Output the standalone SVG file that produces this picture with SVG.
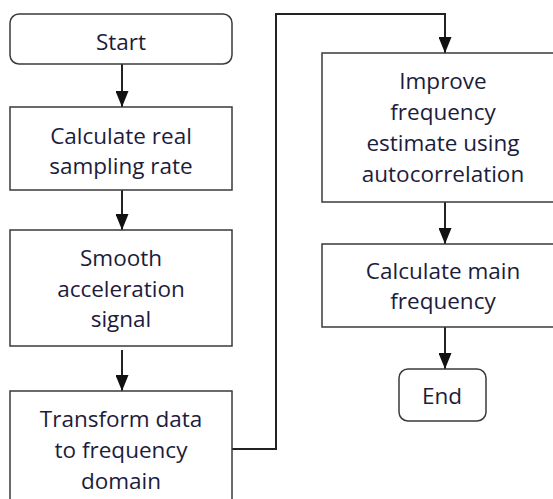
<svg xmlns="http://www.w3.org/2000/svg" width="553" height="499" viewBox="0 0 553 499">
  <style>
    .box { fill: #ffffff; stroke: #3a3a3a; stroke-width: 1.5; }
    .lbl { font-family: "Open Sans", "Noto Sans", sans-serif; font-size: 22.5px; fill: #1c1c3c; text-anchor: middle; }
    .wire { fill: none; stroke: #222222; stroke-width: 2; marker-end: url(#arrow); }
  </style>
  <defs>
    <!-- filled triangular arrowhead, tip at the end of the path -->
    <marker id="arrow" viewBox="0 0 16 13" refX="16" refY="6.5" markerWidth="16" markerHeight="13" markerUnits="userSpaceOnUse" orient="auto">
      <path d="M0,0 L16,6.5 L0,13 Z" fill="#111111"/>
    </marker>
  </defs>
  <rect width="553" height="499" fill="#ffffff"/>

  <g id="connectors">
    <path class="wire" d="M122,64 V107"/>
    <path class="wire" d="M122,190 V230"/>
    <path class="wire" d="M122,350 V391"/>
    <path class="wire" d="M232,449 H276 V14 H445 V53"/>
    <path class="wire" d="M445,202 V244"/>
    <path class="wire" d="M445,327 V369"/>
  </g>

  <g id="start">
    <rect class="box" x="10" y="14" width="222" height="50" rx="9"/>
    <text class="lbl" x="121" y="50">Start</text>
  </g>

  <g id="sampling-rate">
    <rect class="box" x="10" y="107" width="222" height="83"/>
    <text class="lbl" x="121" y="144">Calculate real</text>
    <text class="lbl" x="121" y="174">sampling rate</text>
  </g>

  <g id="smooth">
    <rect class="box" x="10" y="230" width="222" height="116"/>
    <text class="lbl" x="121" y="266">Smooth</text>
    <text class="lbl" x="121" y="297">acceleration</text>
    <text class="lbl" x="121" y="327">signal</text>
  </g>

  <g id="transform">
    <rect class="box" x="10" y="391" width="222" height="130"/>
    <text class="lbl" x="121" y="427">Transform data</text>
    <text class="lbl" x="121" y="458">to frequency</text>
    <text class="lbl" x="121" y="489">domain</text>
  </g>

  <g id="autocorrelation">
    <rect class="box" x="322" y="53" width="246" height="149"/>
    <text class="lbl" x="443" y="89">Improve</text>
    <text class="lbl" x="443" y="120">frequency</text>
    <text class="lbl" x="443" y="151">estimate using</text>
    <text class="lbl" x="443" y="182">autocorrelation</text>
  </g>

  <g id="main-frequency">
    <rect class="box" x="322" y="244" width="246" height="83"/>
    <text class="lbl" x="443" y="279">Calculate main</text>
    <text class="lbl" x="443" y="309">frequency</text>
  </g>

  <g id="end">
    <rect class="box" x="399" y="369" width="87" height="52" rx="9"/>
    <text class="lbl" x="442" y="404">End</text>
  </g>
</svg>
